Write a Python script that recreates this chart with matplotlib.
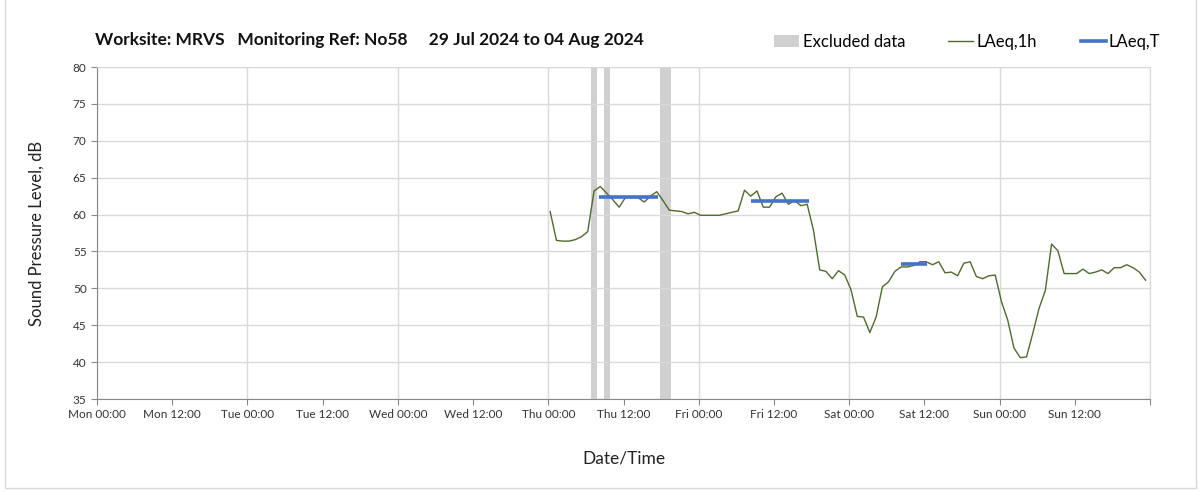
import matplotlib
matplotlib.use("Agg")
import matplotlib.pyplot as plt
from matplotlib.lines import Line2D
from matplotlib.patches import Patch, Rectangle
import pandas as pd

plt.rcParams['font.family'] = ['Lato', 'DejaVu Sans']

# LAeq,1h values, one per hour from Thu 01 Aug 2024 (~00:18)
laeq_1h = [
    60.4, 56.5, 56.4, 56.4, 56.6, 57.0, 57.7, 63.2, 63.8, 62.9, 62.0, 61.0,
    62.3, 62.3, 62.3, 61.7, 62.5, 63.1, 61.9, 60.6, 60.5, 60.4, 60.1, 60.3,
    59.9, 59.9, 59.9, 59.9, 60.1, 60.3, 60.5, 63.3, 62.5, 63.2, 61.0, 61.0,
    62.4, 62.9, 61.4, 61.9, 61.2, 61.4, 57.9, 52.5, 52.3, 51.3, 52.4, 51.8,
    49.8, 46.2, 46.1, 44.0, 46.1, 50.2, 50.9, 52.3, 52.9, 52.9, 53.1, 53.6,
    53.6, 53.2, 53.6, 52.1, 52.2, 51.7, 53.4, 53.6, 51.6, 51.3, 51.7, 51.8,
    48.2, 45.7, 41.9, 40.6, 40.7, 43.9, 47.3, 49.7, 56.0, 55.1, 52.0, 52.0,
    52.0, 52.6, 52.0, 52.2, 52.5, 52.0, 52.8, 52.8, 53.2, 52.8, 52.2, 51.1,
]
data_start = "2024-08-01 00:18"

# periodos excluidos
excluded_start = ["2024-08-01 06:45", "2024-08-01 08:54", "2024-08-01 17:48"]
excluded_end = ["2024-08-01 07:48", "2024-08-01 09:48", "2024-08-01 19:36"]

# LAeq,T por periodo
laeq_t_start = ["2024-08-01 08:06", "2024-08-02 08:18", "2024-08-03 08:18"]
laeq_t_end = ["2024-08-01 17:30", "2024-08-02 17:36", "2024-08-03 12:30"]
laeq_t = [62.4, 61.9, 53.3]

times = pd.date_range(data_start, periods=len(laeq_1h), freq="h")

fig = plt.figure(figsize=(12.03, 4.92), dpi=100)
ax = fig.add_axes([97 / 1203, 1 - 399 / 492, (1150 - 97) / 1203, (399 - 67) / 492])

grid_c = "#d9d9d9"
for d in pd.date_range("2024-07-29", "2024-08-05", freq="D"):
    ax.axvline(d, color=grid_c, lw=1, zorder=0)
ax.yaxis.grid(True, color=grid_c, lw=1, zorder=0)

for s, e in zip(excluded_start, excluded_end):
    ax.axvspan(pd.Timestamp(s), pd.Timestamp(e), color="#d0d0d0", lw=0, zorder=1)

ax.plot(times, laeq_1h, color="#4f6b2c", lw=1, zorder=3)
for s, e, v in zip(laeq_t_start, laeq_t_end, laeq_t):
    ax.plot([pd.Timestamp(s), pd.Timestamp(e)], [v, v], color="#4472c4", lw=2.6,
            solid_capstyle="butt", zorder=4)

ax.set_xlim(pd.Timestamp("2024-07-29"), pd.Timestamp("2024-08-05"))
ax.set_ylim(35, 80)
ax.set_yticks(range(35, 81, 5))
xt = pd.date_range("2024-07-29", "2024-08-05", freq="12h")
ax.set_xticks(xt)
ax.set_xticklabels([t.strftime("%a %H:%M") for t in xt[:-1]] + [""])
ax.tick_params(axis="both", direction="out", length=4, color="#888888",
               labelsize=8.5, labelcolor="#333333")
ax.tick_params(axis="x", pad=3)

for side in ["left", "bottom"]:
    ax.spines[side].set_color("#888888")
for side in ["top", "right"]:
    ax.spines[side].set_color(grid_c)

ax.set_ylabel("Sound Pressure Level, dB", fontsize=12, color="#222222", labelpad=20)
ax.set_xlabel("Date/Time", fontsize=12.5, color="#222222", labelpad=22)

fig.text(95 / 1203, 1 - 40 / 492,
         "Worksite: MRVS   Monitoring Ref: No58     29 Jul 2024 to 04 Aug 2024",
         fontsize=12.5, fontweight="bold", va="center", ha="left", color="#111111")

handles = [
    Patch(facecolor="#d0d0d0", edgecolor="none"),
    Line2D([], [], color="#4f6b2c", lw=1),
    Line2D([], [], color="#4472c4", lw=2.6),
]
fig.legend(handles, ["Excluded data", "LAeq,1h", "LAeq,T"], ncol=3, frameon=False,
           loc="center right", bbox_to_anchor=(1172 / 1203, 1 - 42 / 492),
           fontsize=12, handlelength=1.5, handletextpad=0.2, columnspacing=2.6,
           borderpad=0.2)

fig.add_artist(Rectangle((5 / 1203, 4 / 492), 1191 / 1203, 1.2, transform=fig.transFigure,
                         fill=False, edgecolor=grid_c, lw=1))

plt.savefig("out.png", dpi=100)
